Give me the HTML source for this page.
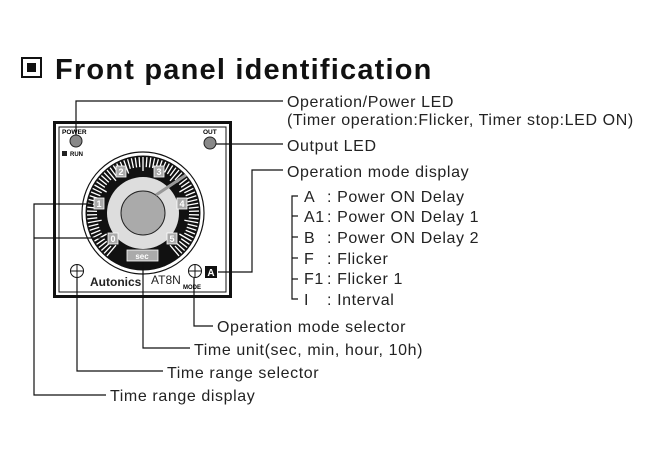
<!DOCTYPE html>
<html><head><meta charset="utf-8"><style>
html,body{margin:0;padding:0;background:#fff;}
body{width:652px;height:462px;overflow:hidden;position:relative;font-family:"Liberation Sans",sans-serif;}
svg{position:absolute;left:0;top:0;}
</style></head><body>
<svg id="s" width="652" height="462" viewBox="0 0 652 462" font-family="Liberation Sans, sans-serif">
<!-- title -->
<rect x="22" y="58" width="19" height="19" fill="#fff" stroke="#111" stroke-width="2"/>
<rect x="27" y="63" width="9" height="9" fill="#111"/>
<text x="55" y="79" font-size="29" font-weight="bold" fill="#111" letter-spacing="1.2">Front panel identification</text>

<!-- panel -->
<rect x="54.5" y="122.5" width="176" height="174" fill="#fff" stroke="#111" stroke-width="3"/>
<rect x="59" y="127" width="167" height="165" fill="none" stroke="#111" stroke-width="1"/>
<text x="62" y="134" font-size="6.5" font-weight="bold">POWER</text>
<circle cx="76" cy="141" r="6" fill="#888" stroke="#222" stroke-width="1"/>
<rect x="62" y="151" width="5" height="5" fill="#222"/>
<text x="70" y="156" font-size="6" font-weight="bold">RUN</text>
<text x="203" y="134" font-size="6.5" font-weight="bold">OUT</text>
<circle cx="210" cy="143" r="6" fill="#888" stroke="#222" stroke-width="1"/>

<!-- dial -->
<circle cx="143" cy="213" r="61" fill="#fff" stroke="#111" stroke-width="1.2"/>
<circle cx="143" cy="213" r="57.5" fill="#111"/>
<g id="ticks" stroke="#fff" stroke-width="1.3"></g>
<circle cx="143" cy="213" r="36" fill="#ddd"/>
<circle cx="143" cy="213" r="22" fill="#aaa" stroke="#222" stroke-width="1"/>
<line x1="156" y1="195" x2="186" y2="175" stroke="#999" stroke-width="3"/>
<g font-size="9" font-weight="bold" fill="#fff" text-anchor="middle">
<rect x="94" y="198" width="10" height="11" fill="#aaa" stroke="#fff" stroke-width="0.8"/><text x="99" y="207">1</text>
<rect x="108" y="233" width="10" height="11" fill="#aaa" stroke="#fff" stroke-width="0.8"/><text x="113" y="242">0</text>
<rect x="116" y="166" width="10" height="11" fill="#aaa" stroke="#fff" stroke-width="0.8"/><text x="121" y="175">2</text>
<rect x="154" y="166" width="10" height="11" fill="#aaa" stroke="#fff" stroke-width="0.8"/><text x="159" y="175">3</text>
<rect x="177" y="198" width="10" height="11" fill="#aaa" stroke="#fff" stroke-width="0.8"/><text x="182" y="207">4</text>
<rect x="167" y="233" width="10" height="11" fill="#aaa" stroke="#fff" stroke-width="0.8"/><text x="172" y="242">5</text>
<rect x="127" y="250" width="31" height="11" fill="#aaa" stroke="#fff" stroke-width="0.8"/><text x="142" y="259" font-size="8">sec</text>
</g>
<!-- screws -->
<g fill="#fff" stroke="#111" stroke-width="1">
<circle cx="77" cy="271" r="6.5"/><line x1="77" y1="265" x2="77" y2="277"/><line x1="71" y1="271" x2="83" y2="271"/>
<circle cx="195" cy="271" r="6.5"/><line x1="195" y1="265" x2="195" y2="277"/><line x1="189" y1="271" x2="201" y2="271"/>
</g>
<text x="90" y="286" font-size="12" font-weight="bold" fill="#222">Autonics</text>
<text x="151" y="284" font-size="12" fill="#222">AT8N</text>
<text x="183" y="289" font-size="6" font-weight="bold">MODE</text>
<rect x="205" y="266" width="12" height="12" fill="#111"/>
<text x="211" y="276" font-size="10" font-weight="bold" fill="#fff" text-anchor="middle">A</text>

<!-- connectors -->
<g stroke="#111" stroke-width="1.2" fill="none">
<polyline points="76,135 76,101 283,101"/>
<line x1="216" y1="144" x2="283" y2="144"/>
<polyline points="218,272 252,272 252,170 283,170"/>
<polyline points="298,196 292,196 292,299 298,299"/>
<line x1="292" y1="216" x2="298" y2="216"/>
<line x1="292" y1="237" x2="298" y2="237"/>
<line x1="292" y1="258" x2="298" y2="258"/>
<line x1="292" y1="279" x2="298" y2="279"/>
<polyline points="93,204 34,204 34,395 106,395"/>
<line x1="34" y1="238" x2="106" y2="238"/>
<polyline points="77,278 77,371 163,371"/>
<polyline points="143,262 143,348 190,348"/>
<polyline points="194,278 194,326 213,326"/>
</g>

<g font-size="16" fill="#222" letter-spacing="0.6">
<text x="287" y="107">Operation/Power LED</text>
<text x="287" y="125">(Timer operation:Flicker, Timer stop:LED ON)</text>
<text x="287" y="151">Output LED</text>
<text x="287" y="177">Operation mode display</text>
<text x="304" y="202">A</text><text x="327" y="202">: Power ON Delay</text>
<text x="304" y="222">A1</text><text x="327" y="222">: Power ON Delay 1</text>
<text x="304" y="243">B</text><text x="327" y="243">: Power ON Delay 2</text>
<text x="304" y="264">F</text><text x="327" y="264">: Flicker</text>
<text x="304" y="284">F1</text><text x="327" y="284">: Flicker 1</text>
<text x="304" y="305">I</text><text x="327" y="305">: Interval</text>
<text x="217" y="332">Operation mode selector</text>
<text x="194" y="355">Time unit(sec, min, hour, 10h)</text>
<text x="167" y="378">Time range selector</text>
<text x="110" y="401">Time range display</text>
</g>
</svg>
<script>
var g=document.getElementById('ticks'),cx=143,cy=213,ns='http://www.w3.org/2000/svg';
for(var a=-140;a<=140;a+=4){
 var r=a*Math.PI/180,len=(a%20==0)?14:10;
 var l=document.createElementNS(ns,'line');
 l.setAttribute('x1',cx+Math.sin(r)*(56-len));l.setAttribute('y1',cy-Math.cos(r)*(56-len));
 l.setAttribute('x2',cx+Math.sin(r)*56);l.setAttribute('y2',cy-Math.cos(r)*56);
 g.appendChild(l);
}
</script>
</body></html>
